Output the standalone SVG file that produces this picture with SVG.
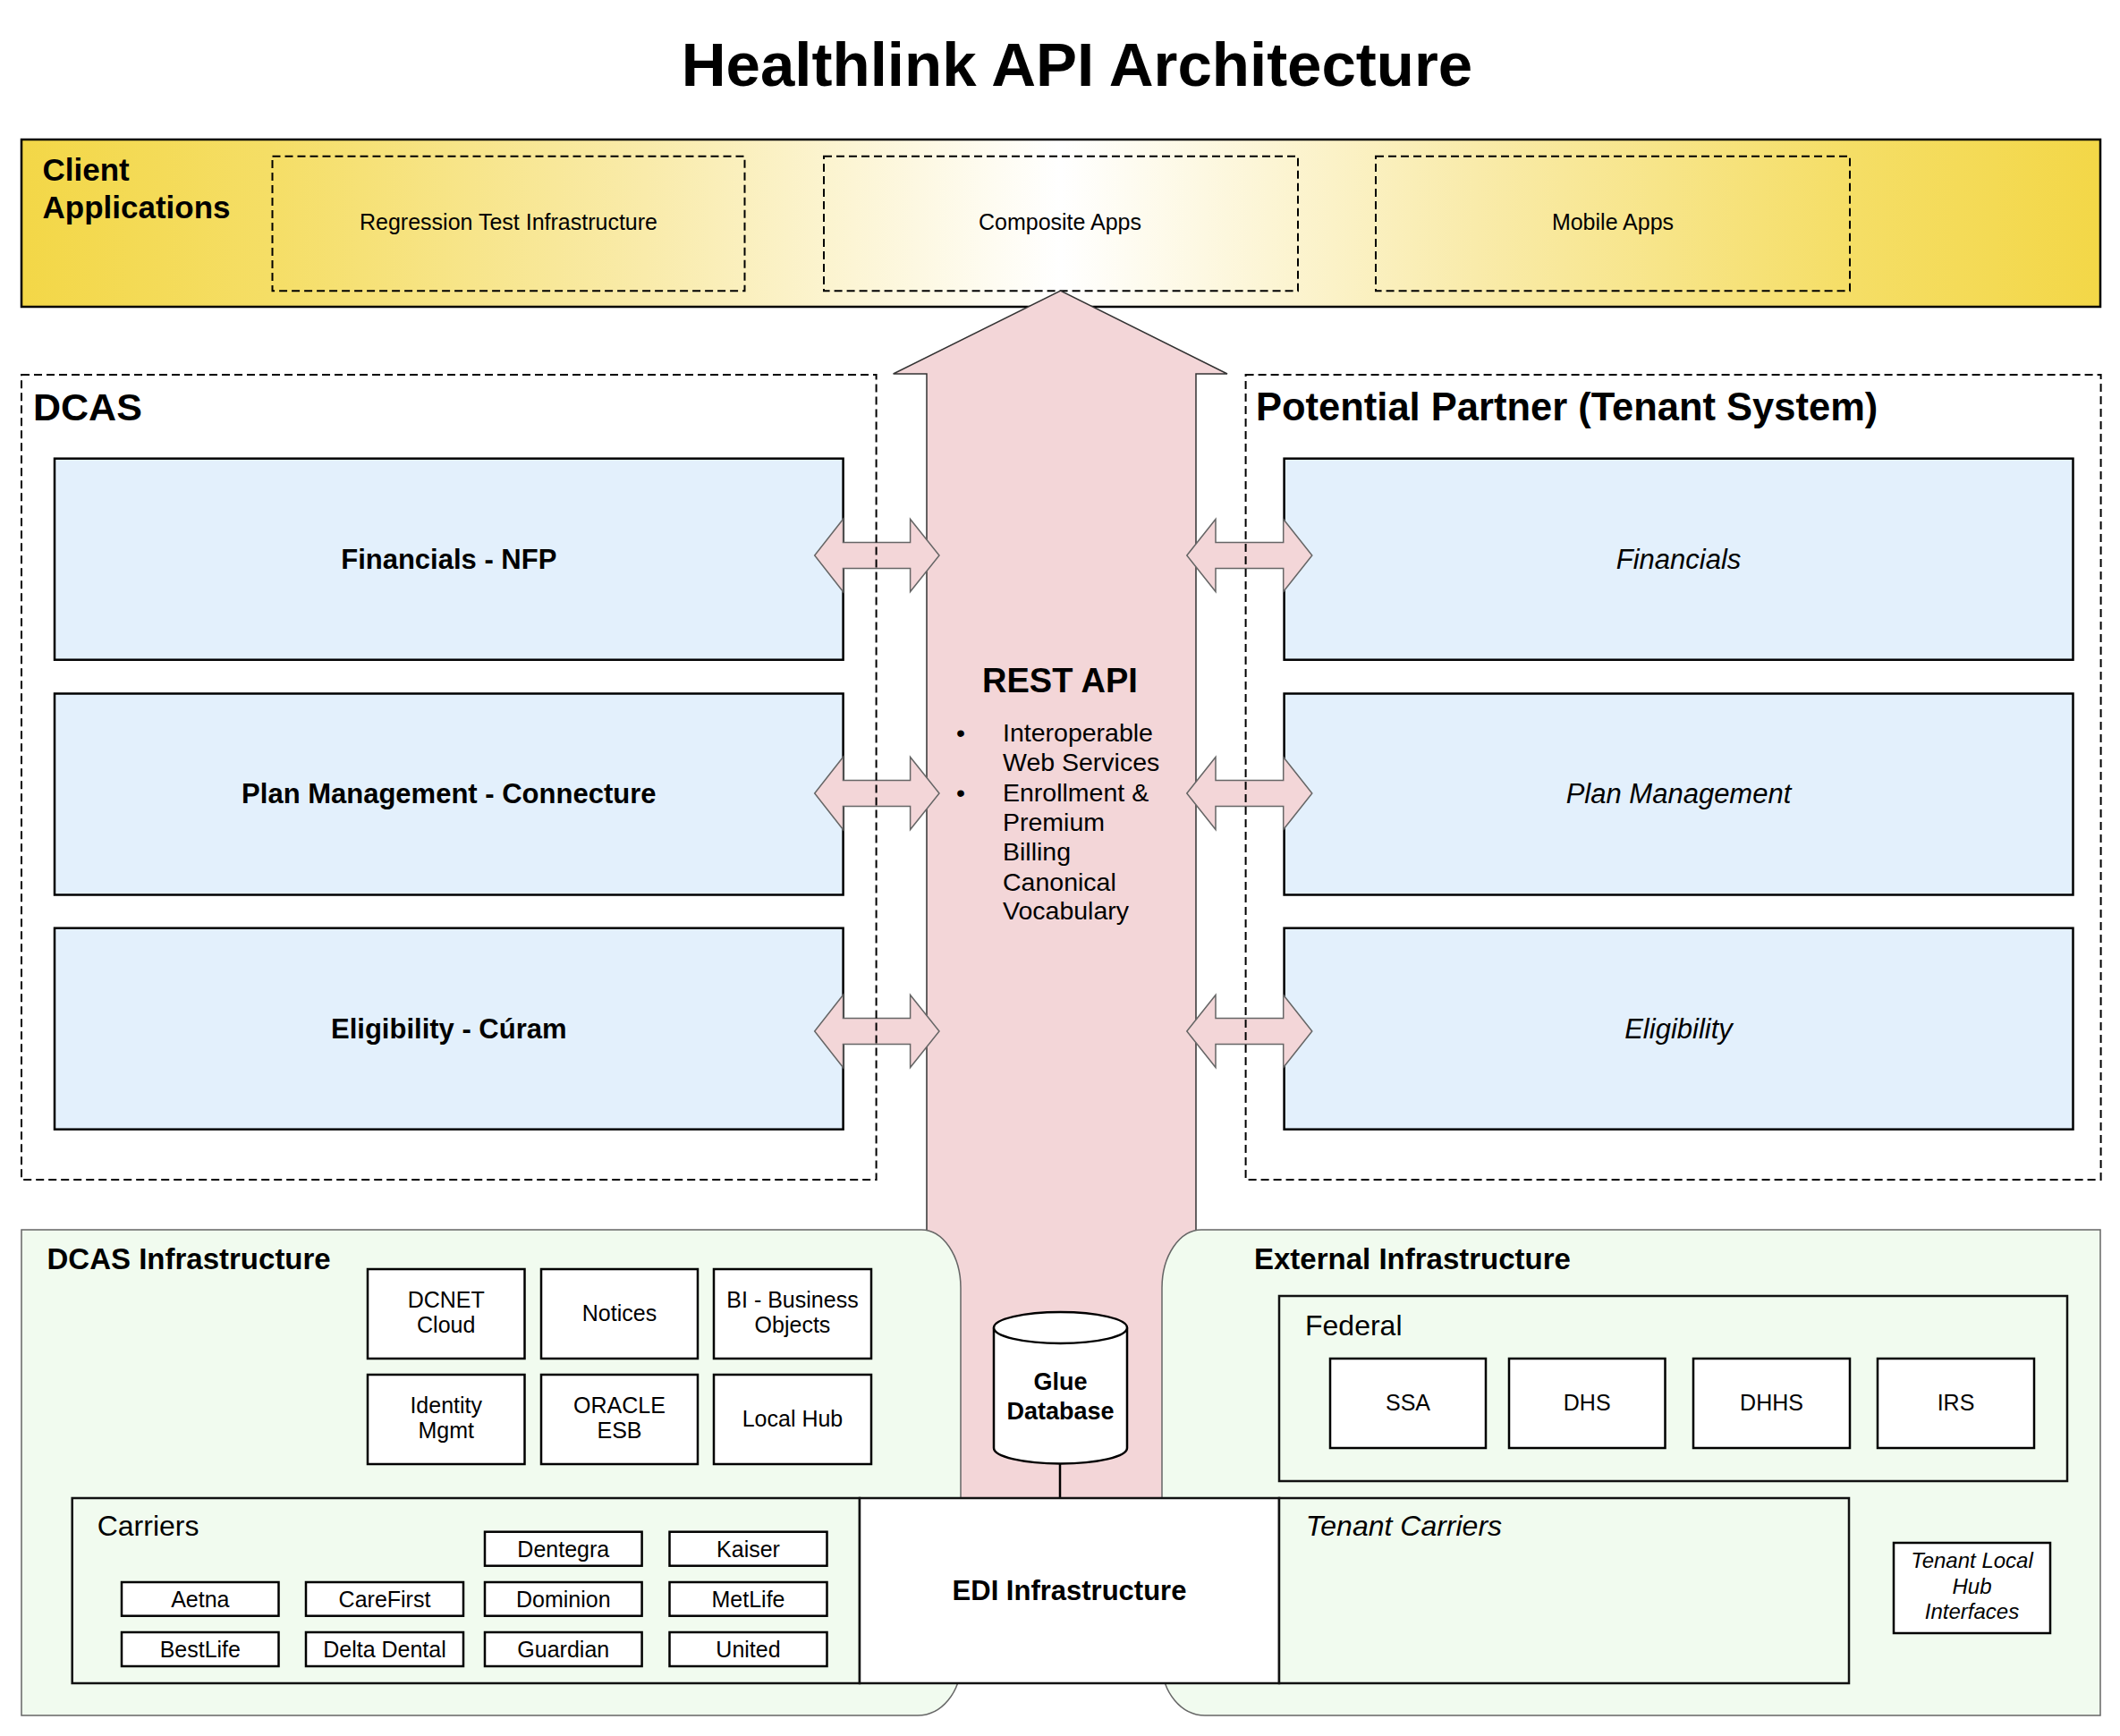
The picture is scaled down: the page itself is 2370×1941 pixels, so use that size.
<svg xmlns="http://www.w3.org/2000/svg" width="2370" height="1941" viewBox="0 0 2370 1941">
<defs>
<linearGradient id="clientGrad" gradientUnits="userSpaceOnUse" x1="24" y1="0" x2="2348" y2="0">
<stop offset="0" stop-color="#F3D747"/>
<stop offset="0.12" stop-color="#F5DE66"/>
<stop offset="0.3" stop-color="#F9EBAA"/>
<stop offset="0.5" stop-color="#FFFFFF"/>
<stop offset="0.7" stop-color="#F9EBAA"/>
<stop offset="0.88" stop-color="#F5DE66"/>
<stop offset="1" stop-color="#F3D747"/>
</linearGradient>
<polygon id="dblL" points="910.7,0 942.5,-40.5 942.5,-14.5 1017.6,-14.5 1017.6,-40.5 1050,0 1017.6,40.5 1017.6,14.5 942.5,14.5 942.5,40.5"/>
<polygon id="dblR" points="1326.8,0 1359,-40.5 1359,-14.5 1434.7,-14.5 1434.7,-40.5 1466.8,0 1434.7,40.5 1434.7,14.5 1359,14.5 1359,40.5"/>
</defs>
<style>
text { font-family: "Liberation Sans", Arial, Helvetica, sans-serif; fill: #000; }
.b { font-weight: bold; }
.i { font-style: italic; }
.c { text-anchor: middle; }
.dash { fill: none; stroke: #000; stroke-width: 2; stroke-dasharray: 9 5; }
.blue { fill: #E3F0FC; stroke: #000; stroke-width: 2.5; }
.panel { fill: #F1FBEF; stroke: #666; stroke-width: 1.5; }
.box { fill: #FFFFFF; stroke: #000; stroke-width: 2.5; }
.gbox { fill: #F1FBEF; stroke: #111; stroke-width: 2.5; }
.pink { fill: #F3D6D8; stroke: #333; stroke-width: 1.5; }
.dbl { fill: #F3D6D8; stroke: #666; stroke-width: 1.5; }
.t24 { font-size: 25px; }
.t25 { font-size: 25px; }
.t31 { font-size: 31px; }
.t32 { font-size: 32px; }
.t33 { font-size: 33px; }
.t42 { font-size: 43.5px; }
</style>
<rect x="0" y="0" width="2370" height="1941" fill="#FFFFFF"/>

<text id="title" class="b c" x="1204" y="96" font-size="69">Healthlink API Architecture</text>

<!-- Client Applications -->
<g id="client-applications">
<rect x="24" y="156" width="2324" height="187" fill="url(#clientGrad)" stroke="#000" stroke-width="2.5"/>
<text class="b" x="47.5" y="202" font-size="35">Client</text>
<text class="b" x="47.5" y="244" font-size="35">Applications</text>
</g>
<g id="regression-test">
<rect class="dash" x="304.5" y="174.7" width="528" height="150.6"/>
<text class="c t24" x="568.5" y="257">Regression Test Infrastructure</text>
</g>
<g id="composite-apps">
<rect class="dash" x="921" y="174.7" width="530" height="150.6"/>
<text class="c t24" x="1185" y="257">Composite Apps</text>
</g>
<g id="mobile-apps">
<rect class="dash" x="1538" y="174.7" width="530" height="150.6"/>
<text class="c t24" x="1803" y="257">Mobile Apps</text>
</g>

<g id="connectors">
<path id="rest-api-arrow" class="pink" d="M1036 1675 V418 H998.6 L1185.6 325 L1372 418 H1337 V1675 Z"/>
</g>

<g id="dcas-infrastructure">
<path class="panel" d="M24 1375 H1030 A44 65 0 0 1 1074 1440 V1860 A48 58 0 0 1 1026 1918 H24 Z"/>
<text class="b t33" x="52.5" y="1419">DCAS Infrastructure</text>
</g>
<g id="external-infrastructure">
<path class="panel" d="M2348 1375 H1343 A44 65 0 0 0 1299 1440 V1860 A48 58 0 0 0 1347 1918 H2348 Z"/>
<text class="b t33" x="1402" y="1419">External Infrastructure</text>
</g>

<g id="rest-api">
<text class="b c" x="1185" y="774" font-size="38">REST API</text>
<text class="c" x="1074" y="829" font-size="28.5">•</text>
<text class="c" x="1074" y="896" font-size="28.5">•</text>
<text x="1121" y="829" font-size="28.5">Interoperable</text>
<text x="1121" y="862" font-size="28.5">Web Services</text>
<text x="1121" y="896" font-size="28.5">Enrollment &amp;</text>
<text x="1121" y="929" font-size="28.5">Premium</text>
<text x="1121" y="962" font-size="28.5">Billing</text>
<text x="1121" y="996" font-size="28.5">Canonical</text>
<text x="1121" y="1028" font-size="28.5">Vocabulary</text>
</g>

<!-- DCAS blue boxes -->
<g id="financials-nfp">
<rect class="blue" x="61" y="512.7" width="881.6" height="225"/>
<text class="b c t31" x="501.8" y="636">Financials - NFP</text>
</g>
<g id="plan-management-connecture">
<rect class="blue" x="61" y="775.5" width="881.6" height="225"/>
<text class="b c t31" x="501.8" y="898">Plan Management - Connecture</text>
</g>
<g id="eligibility-curam">
<rect class="blue" x="61" y="1037.7" width="881.6" height="225"/>
<text class="b c t31" x="501.8" y="1161">Eligibility - Cúram</text>
</g>

<!-- Partner blue boxes -->
<g id="partner-financials">
<rect class="blue" x="1435.6" y="512.7" width="881.9" height="225"/>
<text class="i c t31" x="1876.5" y="636">Financials</text>
</g>
<g id="partner-plan-management">
<rect class="blue" x="1435.6" y="775.5" width="881.9" height="225"/>
<text class="i c t31" x="1876.5" y="898">Plan Management</text>
</g>
<g id="partner-eligibility">
<rect class="blue" x="1435.6" y="1037.7" width="881.9" height="225"/>
<text class="i c t31" x="1876.5" y="1161">Eligibility</text>
</g>

<g id="double-arrows">
<use href="#dblL" class="dbl" transform="translate(0,621)"/>
<use href="#dblL" class="dbl" transform="translate(0,887)"/>
<use href="#dblL" class="dbl" transform="translate(0,1153)"/>
<use href="#dblR" class="dbl" transform="translate(0,621)"/>
<use href="#dblR" class="dbl" transform="translate(0,887)"/>
<use href="#dblR" class="dbl" transform="translate(0,1153)"/>
</g>

<g id="dcas">
<rect class="dash" x="24" y="419" width="955.6" height="900"/>
<text class="b" x="37" y="470" font-size="43">DCAS</text>
</g>
<g id="potential-partner">
<rect class="dash" x="1392.6" y="419" width="956" height="900"/>
<text class="b t42" x="1404" y="470">Potential Partner (Tenant System)</text>
</g>

<!-- DCAS infrastructure boxes -->
<g id="dcnet-cloud">
<rect class="box" x="411" y="1419" width="175.5" height="100"/>
<text class="c t25" x="498.7" y="1462">DCNET</text>
<text class="c t25" x="498.7" y="1490">Cloud</text>
</g>
<g id="notices">
<rect class="box" x="605" y="1419" width="175" height="100"/>
<text class="c t25" x="692.5" y="1477">Notices</text>
</g>
<g id="bi-business-objects">
<rect class="box" x="798" y="1419" width="176" height="100"/>
<text class="c t25" x="886" y="1462">BI - Business</text>
<text class="c t25" x="886" y="1490">Objects</text>
</g>
<g id="identity-mgmt">
<rect class="box" x="411" y="1537" width="175.5" height="100"/>
<text class="c t25" x="498.7" y="1580">Identity</text>
<text class="c t25" x="498.7" y="1608">Mgmt</text>
</g>
<g id="oracle-esb">
<rect class="box" x="605" y="1537" width="175" height="100"/>
<text class="c t25" x="692.5" y="1580">ORACLE</text>
<text class="c t25" x="692.5" y="1608">ESB</text>
</g>
<g id="local-hub">
<rect class="box" x="798" y="1537" width="176" height="100"/>
<text class="c t25" x="886" y="1595">Local Hub</text>
</g>

<!-- Glue database -->
<g id="glue-database">
<path d="M1111 1484.5 V1619 A74.5 17.5 0 0 0 1260 1619 V1484.5" fill="#FFFFFF" stroke="#000" stroke-width="2.5"/>
<ellipse cx="1185.5" cy="1484.5" rx="74.5" ry="17.5" fill="#FFFFFF" stroke="#000" stroke-width="2.5"/>
<text class="b c" x="1185.5" y="1554" font-size="27">Glue</text>
<text class="b c" x="1185.5" y="1587" font-size="27">Database</text>
</g>
<g id="glue-link">
<line x1="1185" y1="1637" x2="1185" y2="1675" stroke="#000" stroke-width="2.5"/>
</g>

<!-- Federal -->
<g id="federal">
<rect class="gbox" x="1430" y="1449" width="881" height="207"/>
<text class="t32" x="1459" y="1493">Federal</text>
</g>
<g id="ssa">
<rect class="box" x="1487" y="1519" width="174" height="100"/>
<text class="c t25" x="1574" y="1577">SSA</text>
</g>
<g id="dhs">
<rect class="box" x="1687" y="1519" width="174.5" height="100"/>
<text class="c t25" x="1774.2" y="1577">DHS</text>
</g>
<g id="dhhs">
<rect class="box" x="1893" y="1519" width="175" height="100"/>
<text class="c t25" x="1980.5" y="1577">DHHS</text>
</g>
<g id="irs">
<rect class="box" x="2099" y="1519" width="175" height="100"/>
<text class="c t25" x="2186.5" y="1577">IRS</text>
</g>

<!-- Carriers -->
<g id="carriers">
<rect class="gbox" x="80.7" y="1675" width="880.3" height="207"/>
<text class="t32" x="108.7" y="1717">Carriers</text>
</g>
<g id="dentegra"><rect class="box" x="542" y="1712.7" width="175.6" height="38"/><text class="c t25" x="629.8" y="1740.5">Dentegra</text></g>
<g id="kaiser"><rect class="box" x="748.5" y="1712.7" width="176" height="38"/><text class="c t25" x="836.5" y="1740.5">Kaiser</text></g>
<g id="aetna"><rect class="box" x="136" y="1769" width="175.5" height="37.7"/><text class="c t25" x="223.8" y="1796.8">Aetna</text></g>
<g id="carefirst"><rect class="box" x="342" y="1769" width="176" height="37.7"/><text class="c t25" x="430" y="1796.8">CareFirst</text></g>
<g id="dominion"><rect class="box" x="542" y="1769" width="175.6" height="37.7"/><text class="c t25" x="629.8" y="1796.8">Dominion</text></g>
<g id="metlife"><rect class="box" x="748.5" y="1769" width="176" height="37.7"/><text class="c t25" x="836.5" y="1796.8">MetLife</text></g>
<g id="bestlife"><rect class="box" x="136" y="1825" width="175.5" height="38"/><text class="c t25" x="223.8" y="1853">BestLife</text></g>
<g id="delta-dental"><rect class="box" x="342" y="1825" width="176" height="38"/><text class="c t25" x="430" y="1853">Delta Dental</text></g>
<g id="guardian"><rect class="box" x="542" y="1825" width="175.6" height="38"/><text class="c t25" x="629.8" y="1853">Guardian</text></g>
<g id="united"><rect class="box" x="748.5" y="1825" width="176" height="38"/><text class="c t25" x="836.5" y="1853">United</text></g>

<!-- EDI -->
<g id="edi-infrastructure">
<rect x="961" y="1675" width="469" height="207" fill="#FFFFFF" stroke="#111" stroke-width="2.5"/>
<text class="b c t31" x="1195.5" y="1789">EDI Infrastructure</text>
</g>

<!-- Tenant carriers -->
<g id="tenant-carriers">
<rect class="gbox" x="1430" y="1675" width="637" height="207"/>
<text class="i t32" x="1459.7" y="1717">Tenant Carriers</text>
</g>
<g id="tenant-local-hub">
<rect class="box" x="2117" y="1725" width="175" height="101"/>
<text class="i c" x="2204.5" y="1753" font-size="24">Tenant Local</text>
<text class="i c" x="2204.5" y="1782" font-size="24">Hub</text>
<text class="i c" x="2204.5" y="1810" font-size="24">Interfaces</text>
</g>
</svg>
